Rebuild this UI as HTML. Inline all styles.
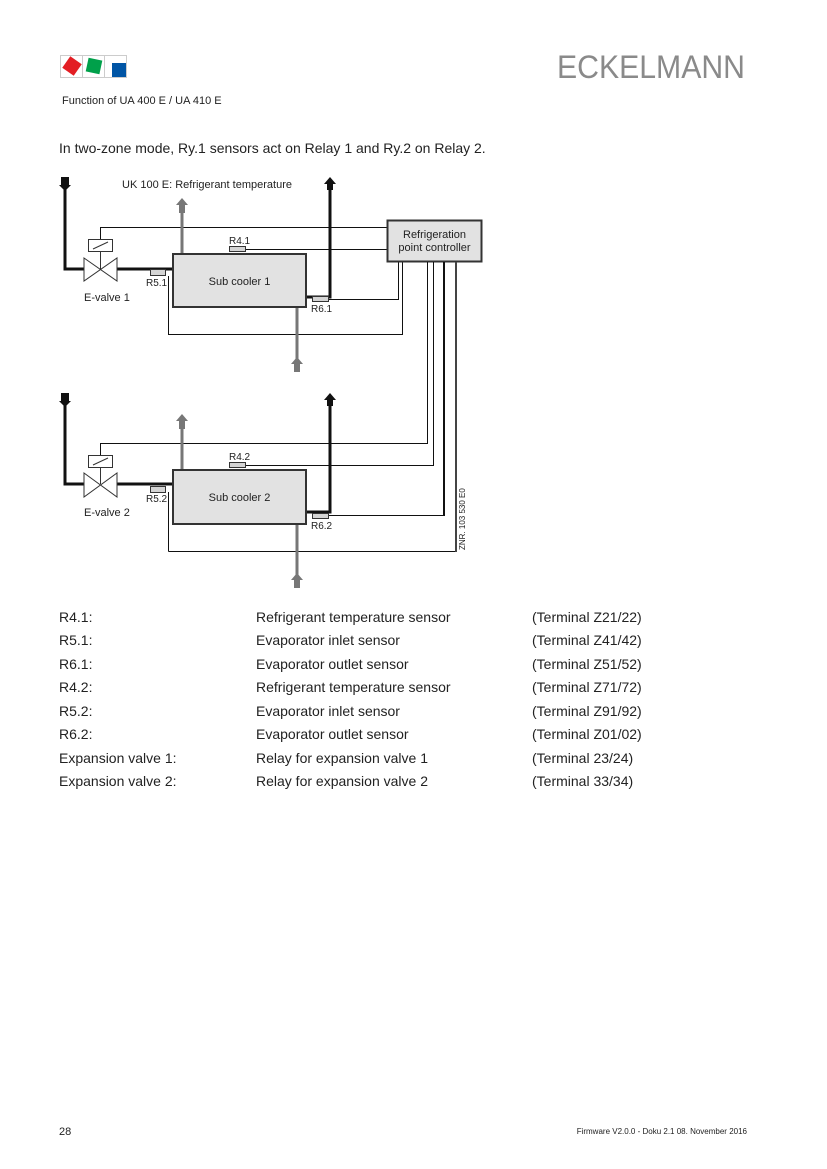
<!DOCTYPE html>
<html><head><meta charset="utf-8"><style>
html,body{margin:0;padding:0;background:#fff}
svg{display:block}
text{font-family:"Liberation Sans",Arial,sans-serif;fill:#222}
</style></head><body>
<svg width="827" height="1169" viewBox="0 0 827 1169" xmlns="http://www.w3.org/2000/svg">
<!-- logo -->
<rect x="60.5" y="55.5" width="22" height="22" fill="none" stroke="#ccc"/>
<rect x="82.5" y="55.5" width="22" height="22" fill="none" stroke="#ccc"/>
<rect x="104.5" y="55.5" width="22" height="22" fill="none" stroke="#ccc"/>
<rect x="65" y="59" width="14" height="14" fill="#e31e24" transform="rotate(35 72 66)"/>
<rect x="87" y="59" width="14" height="14" fill="#00a04a" transform="rotate(12 94 66)"/>
<rect x="112" y="63" width="14" height="14" fill="#0055a5"/>
<text x="557" y="78" font-size="32" style="fill:#8a8a8a" textLength="188" lengthAdjust="spacingAndGlyphs">ECKELMANN</text>
<text x="62" y="104" font-size="11">Function of UA 400 E / UA 410 E</text>
<text x="59" y="153" font-size="14">In two-zone mode, Ry.1 sensors act on Relay 1 and Ry.2 on Relay 2.</text>

<g id="top">
<g fill="none" stroke="#111" stroke-width="1" shape-rendering="crispEdges">
<polyline points="100.5,269 100.5,227.5 387,227.5"/>
<line x1="245" y1="249.5" x2="387" y2="249.5"/>
<polyline points="328,299.5 398.5,299.5 398.5,262"/>
<polyline points="168.5,276 168.5,334.5 402.5,334.5 402.5,262"/>
</g>
<g stroke="#777" stroke-width="3">
<line x1="182" y1="253" x2="182" y2="206"/>
<line x1="297" y1="308" x2="297" y2="362"/>
</g>
<polygon points="176,205 182,198 188,205 185,205 185,213 179,213 179,205" fill="#777"/>
<polygon points="291,364 297,357 303,364 300,364 300,372 294,372 294,364" fill="#777"/>
<polyline points="65,186 65,269 84,269" fill="none" stroke="#111" stroke-width="3"/>
<line x1="117" y1="269" x2="172" y2="269" stroke="#111" stroke-width="3"/>
<polyline points="307,297 330,297 330,186" fill="none" stroke="#111" stroke-width="3"/>
<polygon points="61,177 69,177 69,185 71,185 65,191 59,185 61,185" fill="#111"/>
<polygon points="324,184 330,177 336,184 333,184 333,190 327,190 327,184" fill="#111"/>
<polygon points="84,258 117,281 117,258 84,281" fill="#fff" stroke="#333" stroke-width="1"/>
<rect x="88.5" y="239.5" width="24" height="12" fill="#fff" stroke="#333"/>
<line x1="93" y1="249" x2="108" y2="242" stroke="#333"/>
<line x1="100.5" y1="251" x2="100.5" y2="269" stroke="#333"/>
<rect x="173" y="254" width="133" height="53" fill="#e2e2e2" stroke="#333" stroke-width="2"/>
<text x="239.5" y="285" font-size="11" text-anchor="middle">Sub cooler 1</text>
<rect x="150.5" y="269.5" width="15" height="6" fill="#d4d4d4" stroke="#333"/>
<rect x="229.5" y="246.5" width="16" height="5" fill="#d4d4d4" stroke="#333"/>
<rect x="312.5" y="296.5" width="16" height="5" fill="#d4d4d4" stroke="#333"/>
<text x="146" y="286" font-size="10">R5.1</text>
<text x="229" y="244" font-size="10">R4.1</text>
<text x="311" y="312" font-size="10">R6.1</text>
<text x="84" y="301" font-size="11">E-valve 1</text>
<text x="122" y="188" font-size="11">UK 100 E:  Refrigerant temperature</text>
</g>

<rect x="387.5" y="220.5" width="94" height="41" fill="#e2e2e2" stroke="#333" stroke-width="2"/>
<text x="434.5" y="238" font-size="11" text-anchor="middle">Refrigeration</text>
<text x="434.5" y="251" font-size="11" text-anchor="middle">point controller</text>
<g fill="none" stroke="#111" stroke-width="1" shape-rendering="crispEdges">
<polyline points="427.5,262 427.5,443.5 100.5,443.5 100.5,484"/>
<polyline points="433.5,262 433.5,465.5 245,465.5"/>
<line x1="444" y1="515.5" x2="328" y2="515.5"/>
<line x1="456" y1="551.5" x2="168.5" y2="551.5"/>
<line x1="168.5" y1="551.5" x2="168.5" y2="492"/>
</g>
<line x1="444" y1="262" x2="444" y2="516" stroke="#111" stroke-width="2"/>
<line x1="456" y1="262" x2="456" y2="552" stroke="#444" stroke-width="2"/>

<g id="bottom">
<g stroke="#777" stroke-width="3">
<line x1="182" y1="470" x2="182" y2="421"/>
<line x1="297" y1="524" x2="297" y2="578"/>
</g>
<polygon points="176,421 182,414 188,421 185,421 185,429 179,429 179,421" fill="#777"/>
<polygon points="291,580 297,573 303,580 300,580 300,588 294,588 294,580" fill="#777"/>
<polyline points="65,402 65,484 84,484" fill="none" stroke="#111" stroke-width="3"/>
<line x1="117" y1="484" x2="172" y2="484" stroke="#111" stroke-width="3"/>
<polyline points="307,512 330,512 330,402" fill="none" stroke="#111" stroke-width="3"/>
<polygon points="61,393 69,393 69,401 71,401 65,407 59,401 61,401" fill="#111"/>
<polygon points="324,400 330,393 336,400 333,400 333,406 327,406 327,400" fill="#111"/>
<polygon points="84,473 117,497 117,473 84,497" fill="#fff" stroke="#333" stroke-width="1"/>
<rect x="88.5" y="455.5" width="24" height="12" fill="#fff" stroke="#333"/>
<line x1="93" y1="465" x2="108" y2="458" stroke="#333"/>
<line x1="100.5" y1="467" x2="100.5" y2="484" stroke="#333"/>
<rect x="173" y="470" width="133" height="54" fill="#e2e2e2" stroke="#333" stroke-width="2"/>
<text x="239.5" y="501" font-size="11" text-anchor="middle">Sub cooler 2</text>
<rect x="150.5" y="486.5" width="15" height="6" fill="#d4d4d4" stroke="#333"/>
<rect x="229.5" y="462.5" width="16" height="5" fill="#d4d4d4" stroke="#333"/>
<rect x="312.5" y="513.5" width="16" height="5" fill="#d4d4d4" stroke="#333"/>
<text x="146" y="502" font-size="10">R5.2</text>
<text x="229" y="460" font-size="10">R4.2</text>
<text x="311" y="529" font-size="10">R6.2</text>
<text x="84" y="516" font-size="11">E-valve 2</text>
<text x="0" y="0" font-size="8" transform="translate(465,550) rotate(-90)">ZNR. 103 530 E0</text>
</g>

<g font-size="14">
<text x="59" y="622">R4.1:</text><text x="256" y="622">Refrigerant temperature sensor</text><text x="532" y="622">(Terminal Z21/22)</text>
<text x="59" y="645">R5.1:</text><text x="256" y="645">Evaporator inlet sensor</text><text x="532" y="645">(Terminal Z41/42)</text>
<text x="59" y="669">R6.1:</text><text x="256" y="669">Evaporator outlet sensor</text><text x="532" y="669">(Terminal Z51/52)</text>
<text x="59" y="692">R4.2:</text><text x="256" y="692">Refrigerant temperature sensor</text><text x="532" y="692">(Terminal Z71/72)</text>
<text x="59" y="716">R5.2:</text><text x="256" y="716">Evaporator inlet sensor</text><text x="532" y="716">(Terminal Z91/92)</text>
<text x="59" y="739">R6.2:</text><text x="256" y="739">Evaporator outlet sensor</text><text x="532" y="739">(Terminal Z01/02)</text>
<text x="59" y="763">Expansion valve 1:</text><text x="256" y="763">Relay for expansion valve 1</text><text x="532" y="763">(Terminal 23/24)</text>
<text x="59" y="786">Expansion valve 2:</text><text x="256" y="786">Relay for expansion valve 2</text><text x="532" y="786">(Terminal 33/34)</text>
</g>

<text x="59" y="1135" font-size="11">28</text>
<text x="747" y="1134" font-size="8" text-anchor="end">Firmware V2.0.0 - Doku 2.1   08. November 2016</text>
</svg>
</body></html>
